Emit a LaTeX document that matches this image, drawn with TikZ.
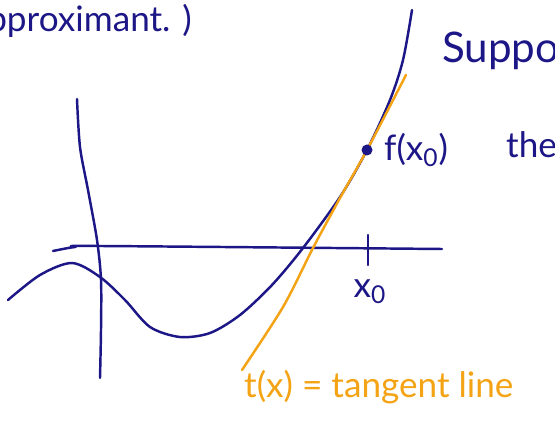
\documentclass[tikz,border=0pt]{standalone}
\usepackage{fontspec}
\setmainfont{Lato}
\usepackage{tikz}
\usetikzlibrary{positioning}
\definecolor{ink}{RGB}{28,22,135}
\definecolor{tang}{RGB}{243,163,20}

\begin{document}
\begin{tikzpicture}[x=0.02cm,y=-0.02cm,line cap=round,line join=round]
  \useasboundingbox (0,0) rectangle (555,422);
  \tikzset{hand/.style={font=\fontsize{20}{24}\selectfont}}
  % axes
  \draw[ink,line width=1.4pt] plot[smooth] coordinates {(53,251) (75,247) (100,246) (442,249)};
  \draw[ink,line width=1.4pt] plot[smooth] coordinates
    {(77,99) (80,147) (88,190) (97,240) (101,280) (101,330) (100,378)};
  % tick at x0
  \draw[ink,line width=1.4pt] (368,235)--(368,265);
  % the function
  \draw[ink,line width=1.4pt] plot[smooth] coordinates
    {(8,300) (40,275) (72,263) (100,277) (125,300) (150,327) (180,337) (210,333)
     (240,315) (272,285) (303,248) (340,197) (367,150) (390,100) (403,60) (412,10)};
  % tangent line
  \draw[tang,line width=1.4pt] plot[smooth] coordinates
    {(242,370) (283,307) (313,248) (340,198) (367,150) (406,75)};
  % point on the curve
  \node[circle,fill=ink,inner sep=0pt,minimum size=0.22cm] (fx0) at (367,150) {};
  \node[hand,ink,anchor=base west] (lblf) at (378,161) {f(x\textsubscript{0})};
  \node[hand,ink,anchor=base] (lblx) at (370,298) {x\textsubscript{0}};
  % text around
  \node[hand,ink,anchor=base east] (approx) at (198,32) {approximant. )};
  \node[hand,ink,anchor=base west,font=\fontsize{24}{28}\selectfont] (supp) at (436,63) {Suppose};
  \node[hand,ink,anchor=base west] (the) at (500,158) {the};
  \node[hand,tang,anchor=base west] (tlbl) at (238,398) {t(x) = tangent line};
\end{tikzpicture}
\end{document}
